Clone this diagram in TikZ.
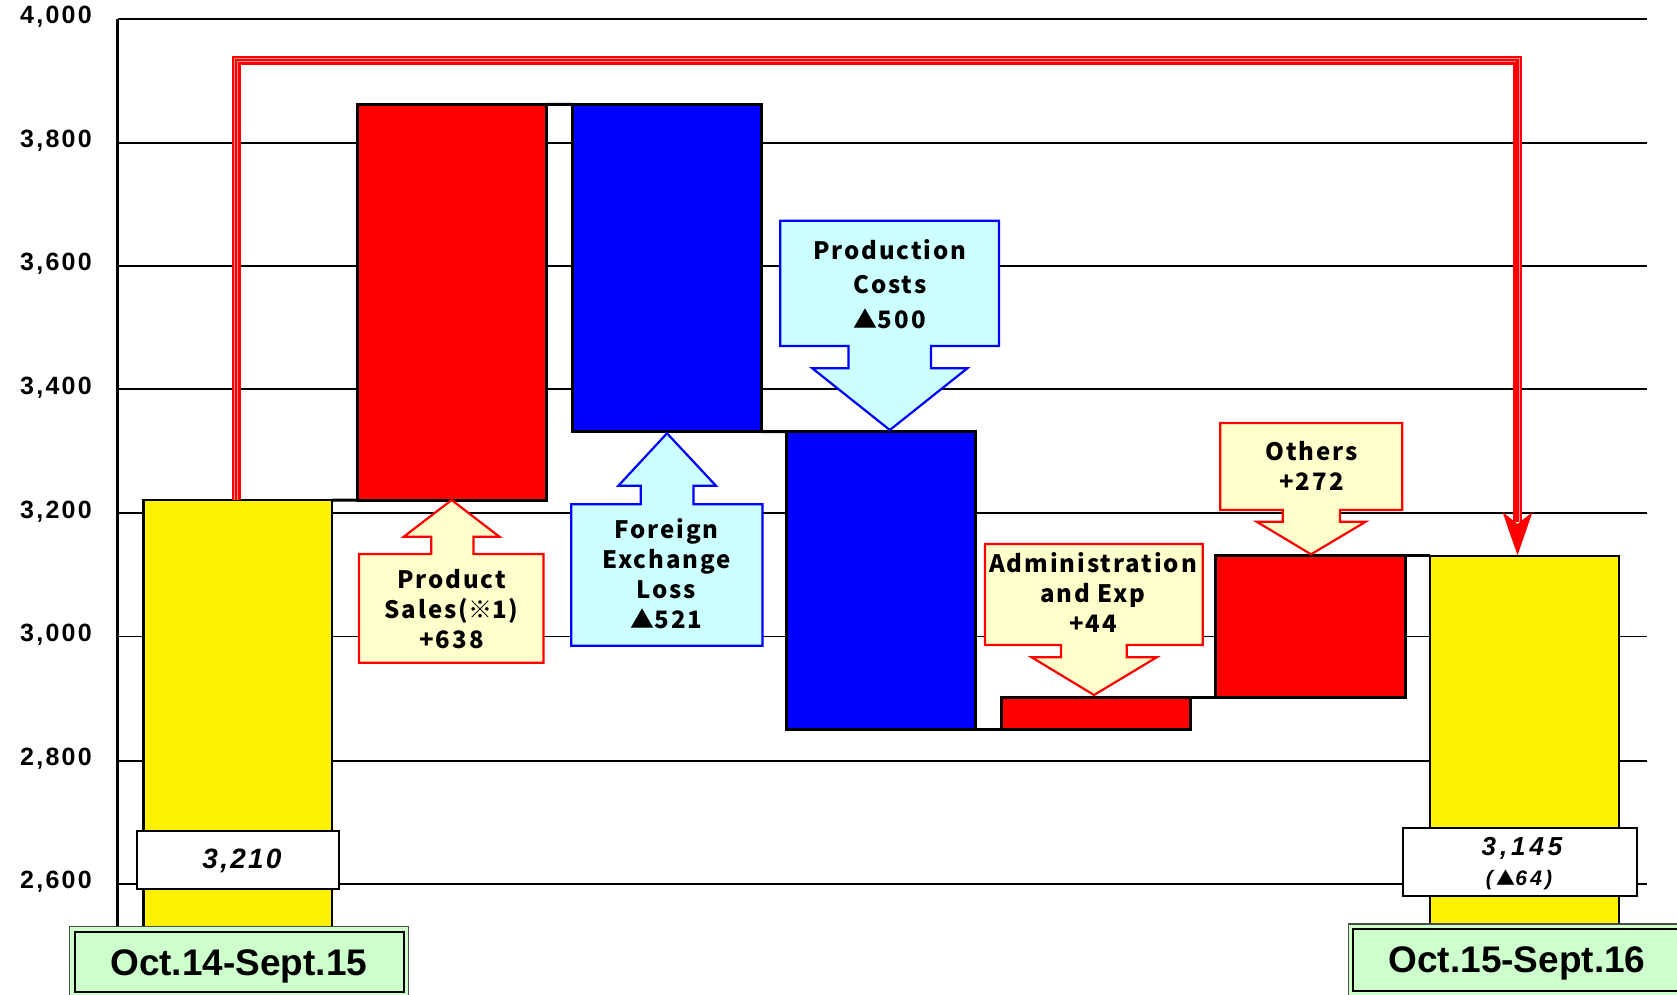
\documentclass[tikz,border=0pt]{standalone}
\usepackage{fontspec}
\setmainfont{Liberation Sans}
\newfontfamily\axisf{Liberation Sans}[LetterSpace=9]
\newfontfamily\labf{Liberation Sans}
\newfontfamily\numa{Liberation Sans}[LetterSpace=8]
\newfontfamily\numb{Liberation Sans}[LetterSpace=15]
\newfontfamily\jpf{Noto Sans CJK JP}[LetterSpace=8,BoldFont={Noto Sans CJK JP Black}]
\newfontfamily\symf{Noto Sans CJK JP}[BoldFont={Noto Sans CJK JP Black}]
\usetikzlibrary{calc}
\definecolor{ltyel}{RGB}{255,255,204}
\definecolor{ltcyan}{RGB}{204,255,255}
\definecolor{lgreen}{RGB}{204,255,204}
\begin{document}
\begin{tikzpicture}[x=1pt,y=-1pt,
  gline/.style={line width=1.6,black},
  axline/.style={line width=2.2,black},
  barbase/.style={draw=black,line width=3,inner sep=0,outer sep=0,anchor=north west},
  ybar/.style={barbase,fill=yellow,line width=2.4},
  rbar/.style={barbase,fill=red},
  bbar/.style={barbase,fill=blue},
  series/.style={line width=3,black},
  callred/.style={draw=red,fill=ltyel,line width=2.2,line join=miter},
  callblue/.style={draw=blue,fill=ltcyan,line width=2.2,line join=miter},
  ctext/.style={font=\jpf\bfseries\fontsize{24}{30}\selectfont,align=center,inner sep=0},
  axl/.style={anchor=east,font=\axisf\bfseries\fontsize{25}{25}\selectfont,inner sep=0},
  valbox/.style={draw=black,fill=white,line width=2.2,inner sep=0},
  glabel/.style={draw=black,fill=lgreen,line width=2.2,inner sep=0},
  gtext/.style={inner sep=0,font=\labf\bfseries\fontsize{37}{37}\selectfont},
  redline/.style={draw=red,line width=9,line join=miter},
  redstripe/.style={draw=red!45,line width=0.8,double=red,double distance=2.4,line join=miter}
]
\useasboundingbox (0,0) rectangle (1677,994);
\clip (0,0) rectangle (1677,994);
\fill[white] (0,0) rectangle (1677,994);

% grid lines
\foreach \yy in {19,142.7,265.7,389,513,636.3,760.7,883.7}
  \draw[gline] (117.5,\yy) -- (1647,\yy);
\draw[axline] (117.5,19) -- (117.5,930);

% axis labels
\node[axl] (l4000) at (92,17) {4,000};
\node[axl] (l3800) at (92,141) {3,800};
\node[axl] (l3600) at (92,264) {3,600};
\node[axl] (l3400) at (92,387.5) {3,400};
\node[axl] (l3200) at (92,511.5) {3,200};
\node[axl] (l3000) at (92,635) {3,000};
\node[axl] (l2800) at (92,759) {2,800};
\node[axl] (l2600) at (92,882) {2,600};

% bars
\node[ybar,minimum width=188.5,minimum height=435] (y1) at (143.5,500) {};
\node[rbar,minimum width=188.7,minimum height=395.7] (r1) at (357.8,104.3) {};
\node[bbar,minimum width=189,minimum height=327.2] (b1) at (572.3,104.5) {};
\node[bbar,minimum width=189.4,minimum height=297.6] (b2) at (786.5,431.7) {};
\node[rbar,minimum width=189,minimum height=31.6] (r2) at (1001,697.7) {};
\node[rbar,minimum width=189.3,minimum height=142] (r3) at (1215.7,555.7) {};
\node[ybar,minimum width=189,minimum height=380] (y2) at (1430,555.7) {};

% series lines
\draw[series] (y1.north east) -- (r1.south west);
\draw[series] (r1.north east) -- (b1.north west);
\draw[series] (b1.south east) -- (b2.north west);
\draw[series] (b2.south east) -- (r2.south west);
\draw[series] (r2.north east) -- (r3.south west);
\draw[series] (r3.north east) -- (y2.north west);

% callouts
\draw[callred] (359,554) -- (431.3,554) -- (431.3,536.7) -- (403.8,536.7) -- (451.6,500)
  -- (499.4,536.7) -- (473.4,536.7) -- (473.4,554) -- (543.4,554) -- (543.4,662.7) -- (359,662.7) -- cycle;
\node[ctext] (tps) at (451.5,609) {Product\\Sales(\symf\bfseries ※\jpf\bfseries 1)\\+638};

\draw[callblue] (571.3,504.3) -- (640.8,504.3) -- (640.8,485.7) -- (618.4,485.7) -- (667,433.3)
  -- (715.9,485.7) -- (693.5,485.7) -- (693.5,504.3) -- (762.4,504.3) -- (762.4,645.7) -- (571.3,645.7) -- cycle;
\node[ctext] (tfx) at (666.5,574) {Foreign\\Exchange\\Loss\\{\symf\bfseries ▲}521};

\draw[callblue] (780.3,220.7) -- (999,220.7) -- (999,346) -- (931,346) -- (931,368.3) -- (967.3,368.3)
  -- (889.8,430) -- (812.3,368.3) -- (848.5,368.3) -- (848.5,346) -- (780.3,346) -- cycle;
\node[ctext,font=\jpf\bfseries\fontsize{24}{34.6}\selectfont] (tpc) at (889.8,284) {Production\\Costs\\{\symf\bfseries ▲}500};

\draw[callred] (985,544) -- (1202.7,544) -- (1202.7,645) -- (1126.7,645) -- (1126.7,657.3) -- (1156.7,657.3)
  -- (1094,695) -- (1031.7,657.3) -- (1061,657.3) -- (1061,645) -- (985,645) -- cycle;
\node[ctext] (tad) at (1093,593) {Administration\\and Exp\\+44};

\draw[callred] (1220.3,423) -- (1402.3,423) -- (1402.3,510) -- (1340,510) -- (1340,521.7) -- (1365.7,521.7)
  -- (1311,554.3) -- (1256.7,521.7) -- (1282.7,521.7) -- (1282.7,510) -- (1220.3,510) -- cycle;
\node[ctext] (tot) at (1311.5,465.5) {Others\\+272};

% red connector
\coordinate (top) at (0,60);
\coordinate (src) at (236,500);
\coordinate (dst) at (1517.5,555.3);
\coordinate (dstb) at (1517.5,522);
\draw[redline] (src) -- (src |- top) -- (dst |- top) -- (dstb);
\draw[redstripe] (src) -- (src |- top) -- (dst |- top) -- (dstb);
\fill[red] (dst) -- (1502.5,512) -- (1517.5,524) -- (1532.5,512) -- cycle;

% value boxes
\node[valbox,minimum width=202.4,minimum height=58.3] (v1) at (237.8,859.9) {};
\node[inner sep=0,font=\numa\bfseries\itshape\fontsize{28}{28}\selectfont] (v1a) at (242,861) {3,210};
\node[valbox,minimum width=233.4,minimum height=67.4] (v2) at (1520,862) {};
\node[inner sep=0,font=\numb\bfseries\itshape\fontsize{26}{26}\selectfont] (v2a) at (1522,848.3) {3,145};
\node[inner sep=0,font=\numb\bfseries\itshape\fontsize{21}{21}\selectfont] (v2b) at (1519,880) {(\,{\symf\bfseries\fontsize{19}{19}\selectfont ▲}64)};

% period labels
\draw[draw=black!70,fill=lgreen,line width=1.2] (69.7,926.7) rectangle (408.7,1010);
\node[glabel,minimum width=329.1,minimum height=60] (g1) at (239.15,961.7) {};
\node[gtext] (g1t) at (238.8,968.5) {\strut Oct.14-Sept.15};
\draw[draw=black!70,fill=lgreen,line width=1.2] (1348.3,924) rectangle (1700,1010);
\node[glabel,minimum width=328.6,minimum height=61.4] (g2) at (1517,960) {};
\node[gtext] (g2t) at (1517,965.5) {\strut Oct.15-Sept.16};
\end{tikzpicture}
\end{document}
